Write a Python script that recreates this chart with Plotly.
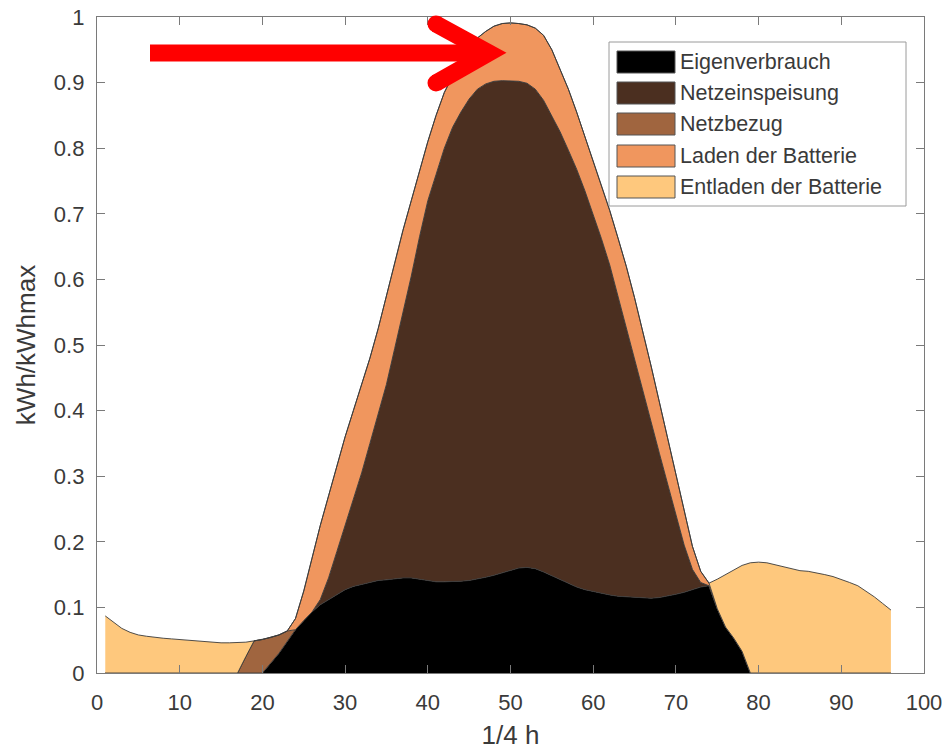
import plotly.graph_objects as go

# ---------------- data ----------------
quarter_hours = list(range(1, 97))

series_names = ["Eigenverbrauch", "Netzeinspeisung", "Netzbezug",
                "Laden der Batterie", "Entladen der Batterie"]
series_colors = ["#000000", "#4b2f20", "#a0653f", "#f0965e", "#fec87d"]

eigenverbrauch = (
    [0.0] * 20 +
    [0.015, 0.030, 0.048, 0.066, 0.080, 0.093, 0.104, 0.112, 0.120, 0.127,   # 21-30
     0.132, 0.135, 0.138, 0.141, 0.142, 0.144, 0.145, 0.145, 0.143, 0.140,   # 31-40
     0.139, 0.139, 0.139, 0.140, 0.141, 0.143, 0.146, 0.149, 0.153, 0.157,   # 41-50
     0.160, 0.161, 0.159, 0.154, 0.148, 0.142, 0.136, 0.131, 0.127, 0.124,   # 51-60
     0.121, 0.119, 0.117, 0.116, 0.115, 0.114, 0.114, 0.115, 0.117, 0.120,   # 61-70
     0.123, 0.127, 0.131, 0.133, 0.098, 0.070, 0.053, 0.033] +              # 71-78
    [0.0] * 18
)

netzeinspeisung = (
    [0.0] * 26 +
    [0.008, 0.033, 0.065, 0.098,                                             # 27-30
     0.133, 0.170, 0.212, 0.254, 0.298, 0.351, 0.403, 0.460, 0.522, 0.580,   # 31-40
     0.621, 0.661, 0.693, 0.715, 0.734, 0.747, 0.752, 0.753, 0.750, 0.746,   # 41-50
     0.742, 0.738, 0.731, 0.719, 0.702, 0.683, 0.661, 0.637, 0.608, 0.576,   # 51-60
     0.541, 0.503, 0.458, 0.412, 0.363, 0.316, 0.269, 0.220, 0.171, 0.120,   # 61-70
     0.072, 0.031, 0.007] +                                                  # 71-73
    [0.0] * 23
)

netzbezug = (
    [0.0] * 17 +
    [0.025, 0.049, 0.051, 0.039, 0.028, 0.016] +                             # 18-23
    [0.0] * 73
)

laden = (
    [0.0] * 23 +
    [0.017, 0.045, 0.082, 0.113, 0.125, 0.130, 0.135,                        # 24-30
     0.135, 0.135, 0.130, 0.130, 0.135, 0.130, 0.127, 0.115, 0.100, 0.090,   # 31-40
     0.090, 0.085, 0.078, 0.080, 0.080, 0.078, 0.080, 0.084, 0.087, 0.088,   # 41-50
     0.088, 0.089, 0.093, 0.099, 0.100, 0.095, 0.093, 0.087, 0.083, 0.080,   # 51-60
     0.081, 0.083, 0.088, 0.092, 0.094, 0.092, 0.085, 0.078, 0.069, 0.060,   # 61-70
     0.050, 0.035, 0.017, 0.004] +                                           # 71-74
    [0.0] * 22
)

entladen = (
    [0.087, 0.077, 0.068, 0.062, 0.058, 0.056, 0.054, 0.053, 0.052, 0.051,   # 1-10
     0.050, 0.048, 0.047, 0.047, 0.046, 0.046, 0.046, 0.022] +               # 11-18
    [0.0] * 56 +
    [0.045, 0.080, 0.104, 0.131, 0.168, 0.169,                               # 75-80
     0.168, 0.165, 0.161, 0.158, 0.156, 0.155, 0.153, 0.150, 0.147, 0.143,   # 81-90
     0.138, 0.133, 0.125, 0.116, 0.106, 0.096]                               # 91-96
)

series_values = [eigenverbrauch, netzeinspeisung, netzbezug, laden, entladen]

x_ticks = [0, 10, 20, 30, 40, 50, 60, 70, 80, 90, 100]
y_ticks = [0, 0.1, 0.2, 0.3, 0.4, 0.5, 0.6, 0.7, 0.8, 0.9, 1]

# ---------------- layout geometry ----------------
W_FIG, H_FIG = 944, 752
M_L, M_R, M_T, M_B = 97, 20, 17, 79
PW = W_FIG - M_L - M_R
PH = H_FIG - M_T - M_B
FONT = "Liberation Sans, Arial, Helvetica, sans-serif"
AXIS_COLOR = "#7a7a7a"
TEXT_COLOR = "#3a3a3a"


def px(xp, yp):
    """window pixel position -> paper coordinates"""
    return (xp - M_L) / PW, (M_T + PH - yp) / PH


fig = go.Figure()
for name, vals, col in zip(series_names, series_values, series_colors):
    fig.add_trace(go.Scatter(
        x=quarter_hours, y=vals, name=name, stackgroup="one", mode="lines",
        line=dict(color="#3a3a3a", width=0.9), fillcolor=col, showlegend=False,
    ))

shapes = []
annotations = []

# ---- custom MATLAB-like legend ----
bx0, by0 = px(609, 206)
bx1, by1 = px(906, 42)
shapes.append(dict(type="rect", xref="paper", yref="paper", x0=bx0, y0=by0, x1=bx1, y1=by1,
                   line=dict(color="#9a9a9a", width=1), fillcolor="white", layer="above"))
row_centers = [62, 93, 124, 156, 187]
for name, col, yc in zip(series_names, series_colors, row_centers):
    sx0, sy0 = px(617, yc + 11)
    sx1, sy1 = px(675, yc - 11)
    shapes.append(dict(type="rect", xref="paper", yref="paper", x0=sx0, y0=sy0, x1=sx1, y1=sy1,
                       line=dict(color="#555555", width=1), fillcolor=col, layer="above"))
    tx, ty = px(678, yc)
    annotations.append(dict(xref="paper", yref="paper", x=tx, y=ty, text=name, showarrow=False,
                            xanchor="left", yanchor="middle",
                            font=dict(family=FONT, size=21.5, color=TEXT_COLOR)))

# ---- red arrow ----
RED = "#ff0000"
ax0, ay0 = px(150, 53)
ax1, ay1 = px(489, 53)
shapes.append(dict(type="path", xref="paper", yref="paper",
                   path=f"M {ax0},{ay0} L {ax1},{ay1}",
                   line=dict(color=RED, width=17), fillcolor="rgba(0,0,0,0)", layer="above"))
hx0, hy0 = px(436, 24)
hx2, hy2 = px(436, 83)
shapes.append(dict(type="path", xref="paper", yref="paper",
                   path=f"M {hx0},{hy0} L {ax1},{ay1} L {hx2},{hy2}",
                   line=dict(color=RED, width=17), fillcolor="rgba(0,0,0,0)", layer="above"))
for cx, cy in [(hx0, hy0), (hx2, hy2)]:
    shapes.append(dict(type="circle", xref="paper", yref="paper",
                       xsizemode="pixel", ysizemode="pixel", xanchor=cx, yanchor=cy,
                       x0=-8.5, x1=8.5, y0=-8.5, y1=8.5,
                       line=dict(width=0), fillcolor=RED, layer="above"))

axis_common = dict(
    showline=True, linecolor=AXIS_COLOR, linewidth=1.3, mirror="ticks",
    ticks="inside", ticklen=8, tickwidth=1.3, tickcolor=AXIS_COLOR,
    showgrid=False, zeroline=False, automargin=False, ticklabeloverflow="allow",
    tickfont=dict(family=FONT, size=22, color=TEXT_COLOR),
)

fig.update_layout(
    width=W_FIG, height=H_FIG,
    margin=dict(l=M_L, r=M_R, t=M_T, b=M_B, pad=0),
    paper_bgcolor="white", plot_bgcolor="white",
    showlegend=False,
    font=dict(family=FONT, color=TEXT_COLOR),
    xaxis=dict(range=[0, 100], tickvals=x_ticks, ticklabelstandoff=9,
               title=dict(text="1/4 h", font=dict(family=FONT, size=26, color=TEXT_COLOR), standoff=12),
               **axis_common),
    yaxis=dict(range=[0, 1], tickvals=y_ticks, ticklabelstandoff=7,
               title=dict(text="kWh/kWhmax", font=dict(family=FONT, size=26, color=TEXT_COLOR), standoff=10),
               **axis_common),
    shapes=shapes,
    annotations=annotations,
)

# remove the default 8px page margin so the 944x752 figure fills the window exactly
fig.write_html("out.html", config={"displayModeBar": False},
               post_script="document.body.style.margin = '0px';")
